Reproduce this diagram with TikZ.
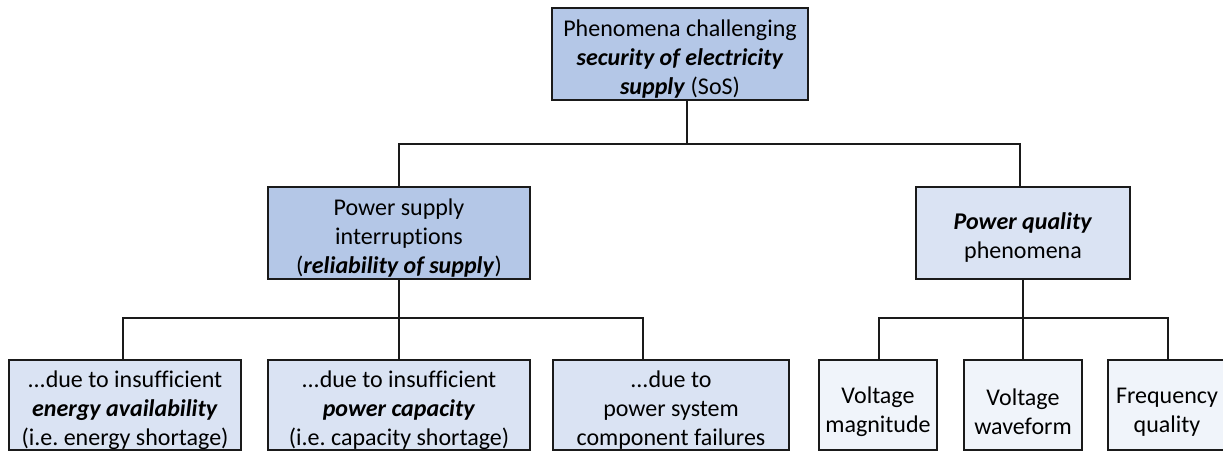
\documentclass[tikz,border=0pt]{standalone}
\usepackage{fontspec}
\setmainfont{Carlito}[Ligatures=NoCommon]
\frenchspacing
\definecolor{fillA}{HTML}{B4C7E7}
\definecolor{fillB}{HTML}{DAE3F3}
\definecolor{fillC}{HTML}{F0F4FA}
\definecolor{inkline}{HTML}{1A1A1A}
\newcommand{\emb}[1]{\textbf{\textit{#1}}}
\begin{document}
\begin{tikzpicture}[x=1pt,y=-1pt,
  box/.style={draw=inkline, line width=2pt, inner sep=0pt},
  txt/.style={align=center, inner sep=0pt, text=black,
    font=\fontsize{24}{29}\selectfont},
  link/.style={draw=inkline, line width=2pt}]
\useasboundingbox (0,0) rectangle (1223,454);

% boxes
\node[box, fill=fillA, minimum width=256pt, minimum height=92pt] (top) at (680,54) {};
\node[box, fill=fillA, minimum width=262pt, minimum height=92pt] (psi) at (399,233) {};
\node[box, fill=fillB, minimum width=214pt, minimum height=92pt] (pq) at (1023,233) {};
\node[box, fill=fillB, minimum width=232pt, minimum height=90pt] (en) at (125,405) {};
\node[box, fill=fillB, minimum width=262pt, minimum height=90pt] (cap) at (399,405) {};
\node[box, fill=fillB, minimum width=236pt, minimum height=90pt] (fail) at (671,405) {};
\node[box, fill=fillC, minimum width=118pt, minimum height=90pt] (vm) at (878,405) {};
\node[box, fill=fillC, minimum width=118pt, minimum height=90pt] (vw) at (1023,405) {};
\node[box, fill=fillC, minimum width=118pt, minimum height=90pt] (fq) at (1167,405) {};

% box texts
\node[txt] (top-t) at ([yshift=-5pt]top.center)
  {Phenomena challenging\\\emb{security of electricity}\\\emb{supply} (SoS)};
\node[txt] (psi-t) at ([yshift=-5pt]psi.center)
  {Power supply\\interruptions\\(\emb{reliability of supply})};
\node[txt] (pq-t) at ([yshift=-5pt]pq.center)
  {\emb{Power quality}\\phenomena};
\node[txt] (en-t) at ([yshift=-5pt]en.center)
  {...due to insufficient\\\emb{energy availability}\\(i.e. energy shortage)};
\node[txt] (cap-t) at ([yshift=-5pt]cap.center)
  {...due to insufficient\\\emb{power capacity}\\(i.e. capacity shortage)};
\node[txt] (fail-t) at ([yshift=-5pt]fail.center)
  {...due to\\power system\\component failures};
\node[txt] (vm-t) at ([yshift=-7pt]vm.center) {Voltage\\magnitude};
\node[txt] (vw-t) at ([yshift=-7pt]vw.center) {Voltage\\waveform};
\node[txt] (fq-t) at ([yshift=-7pt]fq.center) {Frequency\\quality};

% connectors
\coordinate (tj) at ([xshift=7pt]top.south);
\draw[link] (tj) -- ++(0,43) -| (psi.north);
\draw[link] (tj) -- ++(0,43) -| ([xshift=-3pt]pq.north);

\draw[link] (psi.south) -- ++(0,38) -| ([xshift=-2pt]en.north);
\draw[link] (psi.south) -- (cap.north);
\draw[link] (psi.south) -- ++(0,38) -| ([xshift=-28pt]fail.north);

\draw[link] (pq.south) -- ++(0,38) -| ([xshift=1pt]vm.north);
\draw[link] (pq.south) -- (vw.north);
\draw[link] (pq.south) -- ++(0,38) -| ([xshift=1pt]fq.north);
\end{tikzpicture}
\end{document}
